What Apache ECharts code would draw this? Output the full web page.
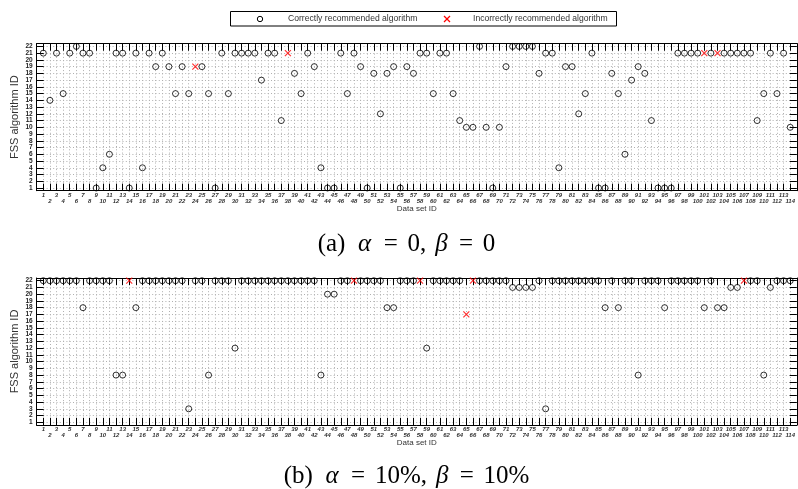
<!DOCTYPE html>
<html><head><meta charset="utf-8">
<script src="https://cdn.jsdelivr.net/npm/echarts@6/dist/echarts.min.js"></script>
<style>html,body{margin:0;padding:0;background:#fff}#c{width:798px;height:489px}</style>
</head><body><div id="c"></div>
<script>
// ---------- data ----------
const dataSetIds = [1,2,3,4,5,6,7,8,9,10,11,12,13,14,15,16,17,18,19,20,21,22,23,24,25,26,27,28,29,30,
  31,32,33,34,35,36,37,38,39,40,41,42,43,44,45,46,47,48,49,50,51,52,53,54,55,56,57,58,59,60,
  61,62,63,64,65,66,67,68,69,70,71,72,73,74,75,76,77,78,79,80,81,82,83,84,85,86,87,88,89,90,
  91,92,93,94,95,96,97,98,99,100,101,102,103,104,105,106,107,108,109,110,111,112,113,114];
// panel (a): alpha = 0, beta = 0
const algA = [21,14,21,15,21,22,21,21,1,4, 6,21,21,1,21,4,21,19,21,19, 15,19,15,19,19,15,1,21,15,21,
  21,21,21,17,21,21,11,21,18,15, 21,19,4,1,1,21,15,21,19,1, 18,12,18,19,1,19,18,21,21,15,
  21,21,15,11,10,10,22,10,1,10, 19,22,22,22,22,18,21,21,4,19, 19,12,15,21,1,1,18,15,6,17,
  19,18,11,1,1,1,21,21,21,21, 21,21,21,21,21,21,21,21,11,15, 21,15,21,10];
const wrongA = [24,38,101,103];
// panel (b): alpha = 10%, beta = 10%
const algB = [22,22,22,22,22,22,18,22,22,22, 22,8,8,22,18,22,22,22,22,22, 22,22,3,22,22,8,22,22,22,12,
  22,22,22,22,22,22,22,22,22,22, 22,22,8,20,20,22,22,22,22,22, 22,22,18,18,22,22,22,22,12,22,
  22,22,22,22,17,22,22,22,22,22, 22,21,21,21,21,22,3,22,22,22, 22,22,22,22,22,18,22,18,22,22,
  8,22,22,22,18,22,22,22,22,22, 18,22,18,18,21,21,22,22,22,8, 21,22,22,22];
const wrongB = [14,48,58,65,66,107];
const legendNames = ['Correctly recommended algorithm','Incorrectly recommended algorithm'];
const xName = 'Data set ID';
const yName = 'FSS algorithm ID';
const captionA = '{p|(a)}{i|α}{e|=}{n|0}{c|,}{j|β}{e|=}{n|0}';
const captionB = '{q|(b)}{i|α}{e|=}{m|10%}{c|,}{j|β}{e|=}{m|10%}';
const xRange = [0, 115];
const yRange = [0.6, 22.4];

// ---------- build ----------
function splitData(alg, wrong) {
  const ok = [], bad = [];
  dataSetIds.forEach((id, i) => (wrong.includes(id) ? bad : ok).push([id, alg[i]]));
  return {ok, bad};
}
const grids = [
  {left: 36.7, right: -4.3, top: 43.7, height: 147},
  {left: 36.7, right: -4.3, top: 278, height: 147}
];
const AX = '#000', TXT = '#333', GRIDC = '#b0b0b0';
const xAxes = [], yAxes = [];
grids.forEach((g, gi) => {
  xAxes.push({
    type: 'value', gridIndex: gi, min: xRange[0], max: xRange[1], interval: 1, position: 'bottom',
    axisLine: {show: true, onZero: false, lineStyle: {color: AX, width: 1}},
    axisTick: {show: true, inside: true, length: 7, lineStyle: {color: AX, width: 1}},
    axisLabel: {show: true, margin: 1.5, fontSize: 6, fontWeight: 'bold', fontStyle: 'italic',
      fontFamily: 'Liberation Sans', color: TXT, lineHeight: 6.2,
      formatter: v => v === 0 ? '' : (v % 2 === 1 ? String(v) : '\n' + v)},
    splitLine: {show: true, lineStyle: {color: GRIDC, width: 1, type: [1, 2.3]}},
    name: xName, nameLocation: 'middle', nameGap: 14, nameMoveOverlap: false,
    nameTextStyle: {fontSize: 8, color: TXT, fontFamily: 'Liberation Sans'}
  });
  xAxes.push({
    type: 'value', gridIndex: gi, min: xRange[0], max: xRange[1], interval: 1, position: 'top',
    axisLine: {show: true, onZero: false, lineStyle: {color: AX, width: 1}},
    axisTick: {show: true, inside: true, length: 7, lineStyle: {color: AX, width: 1}},
    axisLabel: {show: false}, splitLine: {show: false}
  });
  yAxes.push({
    type: 'value', gridIndex: gi, min: yRange[0], max: yRange[1], minInterval: 1, maxInterval: 1,
    splitNumber: 22, position: 'left',
    axisLine: {show: true, onZero: false, lineStyle: {color: AX, width: 1}},
    axisTick: {show: true, inside: true, length: 7, lineStyle: {color: AX, width: 1}},
    axisLabel: {show: true, margin: 4, fontSize: 6.5, fontWeight: 'bold', fontFamily: 'Liberation Sans',
      color: '#222', formatter: v => Number.isInteger(v) ? String(v) : ''},
    splitLine: {show: true, lineStyle: {color: GRIDC, width: 1, type: [1, 2.3]}},
    name: yName, nameLocation: 'middle', nameGap: 16, nameMoveOverlap: false,
    nameTextStyle: {fontSize: 11, color: TXT, fontFamily: 'Liberation Sans'}
  });
  yAxes.push({
    type: 'value', gridIndex: gi, min: yRange[0], max: yRange[1], minInterval: 1, maxInterval: 1,
    splitNumber: 22, position: 'right',
    axisLine: {show: true, onZero: false, lineStyle: {color: AX, width: 1}},
    axisTick: {show: true, inside: true, length: 7, lineStyle: {color: AX, width: 1}},
    axisLabel: {show: false}, splitLine: {show: false}
  });
});

const circleStyle = {color: 'rgba(0,0,0,0)', borderColor: '#000', borderWidth: 1};
const crossStyle = {color: '#f00', borderColor: '#f00', borderWidth: 1.2};
const CROSS = 'path://M0 0L10 10M10 0L0 10';
const series = [];
[[algA, wrongA], [algB, wrongB]].forEach(([alg, wrong], gi) => {
  const d = splitData(alg, wrong);
  series.push({type: 'scatter', name: legendNames[0], xAxisIndex: gi * 2, yAxisIndex: gi * 2,
    data: d.ok, symbol: 'circle', symbolSize: 6, itemStyle: circleStyle, emphasis: {disabled: true}});
  series.push({type: 'scatter', name: legendNames[1], xAxisIndex: gi * 2, yAxisIndex: gi * 2,
    data: d.bad, symbol: CROSS, symbolSize: 6, symbolKeepAspect: true, itemStyle: crossStyle, emphasis: {disabled: true}});
});

const CF = {fontSize: 25, fontFamily: 'Liberation Serif', fill: '#000', align: 'left'};
const capRich = {
  p: Object.assign({width: 40.3}, CF),
  q: Object.assign({width: 41.7}, CF),
  i: Object.assign({width: 25.7, fontStyle: 'italic'}, CF),
  j: Object.assign({width: 23.7, fontStyle: 'italic'}, CF),
  e: Object.assign({width: 23.8}, CF),
  n: Object.assign({width: 12.5}, CF),
  m: Object.assign({width: 45.8}, CF),
  c: Object.assign({width: 15.3}, CF)
};
const legendFont = {fontSize: 8.6, fontFamily: 'Liberation Sans', fill: TXT, verticalAlign: 'middle', align: 'left'};
const LY = 19;
const chart = echarts.init(document.getElementById('c'), null, {renderer: 'canvas'});
chart.setOption({
  animation: false,
  backgroundColor: '#fff',
  grid: grids,
  xAxis: xAxes,
  yAxis: yAxes,
  graphic: [
    // legend box
    {type: 'rect', shape: {x: 230.5, y: 11.5, width: 386, height: 14.5},
      style: {fill: '#fff', stroke: '#000', lineWidth: 1}, z: 10},
    {type: 'circle', shape: {cx: 260, cy: LY, r: 2.7}, style: {fill: 'none', stroke: '#000', lineWidth: 1}, z: 11},
    {type: 'text', x: 288, y: LY, style: Object.assign({text: legendNames[0]}, legendFont), z: 11},
    {type: 'polyline', shape: {points: [[444, LY - 3], [450, LY + 3]]}, style: {stroke: '#f00', lineWidth: 1.2}, z: 11},
    {type: 'polyline', shape: {points: [[450, LY - 3], [444, LY + 3]]}, style: {stroke: '#f00', lineWidth: 1.2}, z: 11},
    {type: 'text', x: 473, y: LY, style: Object.assign({text: legendNames[1]}, legendFont), z: 11},
    // captions
    {type: 'text', x: 406.5, y: 244, style: {text: captionA, align: 'center', verticalAlign: 'middle',
      fill: '#000', fontSize: 25, fontFamily: 'Liberation Serif', rich: capRich}},
    {type: 'text', x: 406.5, y: 476, style: {text: captionB, align: 'center', verticalAlign: 'middle',
      fill: '#000', fontSize: 25, fontFamily: 'Liberation Serif', rich: capRich}}
  ],
  series: series
});
</script></body></html>
